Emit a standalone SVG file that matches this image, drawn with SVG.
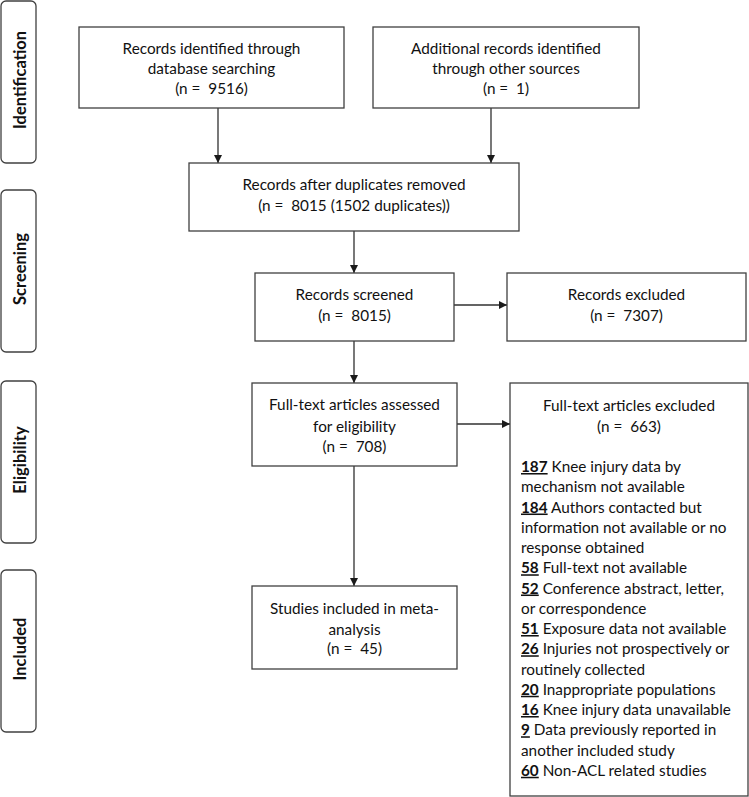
<svg xmlns="http://www.w3.org/2000/svg" width="749" height="797" viewBox="0 0 749 797">
<style>
.box{fill:#fff;stroke:#404040;stroke-width:1.3}
.side{fill:#fff;stroke:#404040;stroke-width:1.3}
.t{font-family:Lato,"Liberation Sans",sans-serif;font-size:15.3px;fill:#111;text-anchor:middle}
.l{font-family:Lato,"Liberation Sans",sans-serif;font-size:15.3px;fill:#111}
.u{font-weight:bold;text-decoration:underline}
.s{font-family:Lato,"Liberation Sans",sans-serif;font-size:16.5px;font-weight:bold;fill:#111;text-anchor:middle}
.c{stroke:#303030;stroke-width:1.3;fill:none;marker-end:url(#ah)}
</style>
<defs>
<marker id="ah" viewBox="0 0 10 10" refX="10" refY="5" markerWidth="8" markerHeight="8" markerUnits="userSpaceOnUse" orient="auto">
<path d="M0,0 L10,5 L0,10 z" fill="#1a1a1a"/>
</marker>
</defs>
<rect width="749" height="797" fill="#fff"/>
<g id="phase-identification">
<rect class="side" x="1" y="1" width="35" height="162" rx="5"/>
<text class="s" transform="translate(26,80) rotate(-90)">Identification</text>
</g>
<g id="phase-screening">
<rect class="side" x="1" y="190" width="35" height="162" rx="5"/>
<text class="s" transform="translate(26,269) rotate(-90)">Screening</text>
</g>
<g id="phase-eligibility">
<rect class="side" x="1" y="381" width="35" height="162" rx="5"/>
<text class="s" transform="translate(26,460) rotate(-90)">Eligibility</text>
</g>
<g id="phase-included">
<rect class="side" x="1" y="570" width="35" height="162" rx="5"/>
<text class="s" transform="translate(26,649) rotate(-90)">Included</text>
</g>
<g id="connectors">
<line class="c" x1="218" y1="108" x2="218" y2="163"/>
<line class="c" x1="491" y1="108" x2="491" y2="163"/>
<line class="c" x1="354" y1="231" x2="354" y2="273"/>
<line class="c" x1="454" y1="305" x2="507" y2="305"/>
<line class="c" x1="354" y1="341" x2="354" y2="383"/>
<line class="c" x1="457" y1="424" x2="510" y2="424"/>
<line class="c" x1="354" y1="466" x2="354" y2="586"/>
</g>
<g id="db-records">
<rect class="box" x="79" y="27" width="265" height="81"/>
<text class="t" x="211.5" y="54">Records identified through</text>
<text class="t" x="211.5" y="74">database searching</text>
<text class="t" x="211.5" y="94" xml:space="preserve">(n =  9516)</text>
</g>
<g id="other-records">
<rect class="box" x="373" y="27" width="266" height="81"/>
<text class="t" x="506" y="54">Additional records identified</text>
<text class="t" x="506" y="74">through other sources</text>
<text class="t" x="506" y="94" xml:space="preserve">(n =  1)</text>
</g>
<g id="dedup">
<rect class="box" x="189" y="163" width="330" height="68"/>
<text class="t" x="354" y="190">Records after duplicates removed</text>
<text class="t" x="354" y="211" xml:space="preserve">(n =  8015 (1502 duplicates))</text>
</g>
<g id="screened">
<rect class="box" x="255" y="273" width="199" height="68"/>
<text class="t" x="354.5" y="300">Records screened</text>
<text class="t" x="354.5" y="321" xml:space="preserve">(n =  8015)</text>
</g>
<g id="excluded">
<rect class="box" x="507" y="273" width="239" height="68"/>
<text class="t" x="626.5" y="300">Records excluded</text>
<text class="t" x="626.5" y="321" xml:space="preserve">(n =  7307)</text>
</g>
<g id="fulltext">
<rect class="box" x="252" y="383" width="205" height="83"/>
<text class="t" x="354.5" y="410">Full-text articles assessed</text>
<text class="t" x="354.5" y="432">for eligibility</text>
<text class="t" x="354.5" y="452" xml:space="preserve">(n =  708)</text>
</g>
<g id="fulltext-excluded">
<rect class="box" x="510" y="383" width="238" height="413"/>
<text class="t" x="629" y="411">Full-text articles excluded</text>
<text class="t" x="629" y="432" xml:space="preserve">(n =  663)</text>
<text class="l" x="521" y="472"><tspan class="u">187</tspan> Knee injury data by</text>
<text class="l" x="521" y="492.25">mechanism not available</text>
<text class="l" x="521" y="512.5"><tspan class="u">184</tspan> Authors contacted but</text>
<text class="l" x="521" y="532.75">information not available or no</text>
<text class="l" x="521" y="553">response obtained</text>
<text class="l" x="521" y="573.25"><tspan class="u">58</tspan> Full-text not available</text>
<text class="l" x="521" y="593.5"><tspan class="u">52</tspan> Conference abstract, letter,</text>
<text class="l" x="521" y="613.75">or correspondence</text>
<text class="l" x="521" y="634"><tspan class="u">51</tspan> Exposure data not available</text>
<text class="l" x="521" y="654.25"><tspan class="u">26</tspan> Injuries not prospectively or</text>
<text class="l" x="521" y="674.5">routinely collected</text>
<text class="l" x="521" y="694.75"><tspan class="u">20</tspan> Inappropriate populations</text>
<text class="l" x="521" y="715"><tspan class="u">16</tspan> Knee injury data unavailable</text>
<text class="l" x="521" y="735.25"><tspan class="u">9</tspan> Data previously reported in</text>
<text class="l" x="521" y="755.5">another included study</text>
<text class="l" x="521" y="775.75"><tspan class="u">60</tspan> Non-ACL related studies</text>
</g>
<g id="included-studies">
<rect class="box" x="252" y="586" width="205" height="83"/>
<text class="t" x="354.5" y="614">Studies included in meta-</text>
<text class="t" x="354.5" y="635">analysis</text>
<text class="t" x="354.5" y="654" xml:space="preserve">(n =  45)</text>
</g>
</svg>
